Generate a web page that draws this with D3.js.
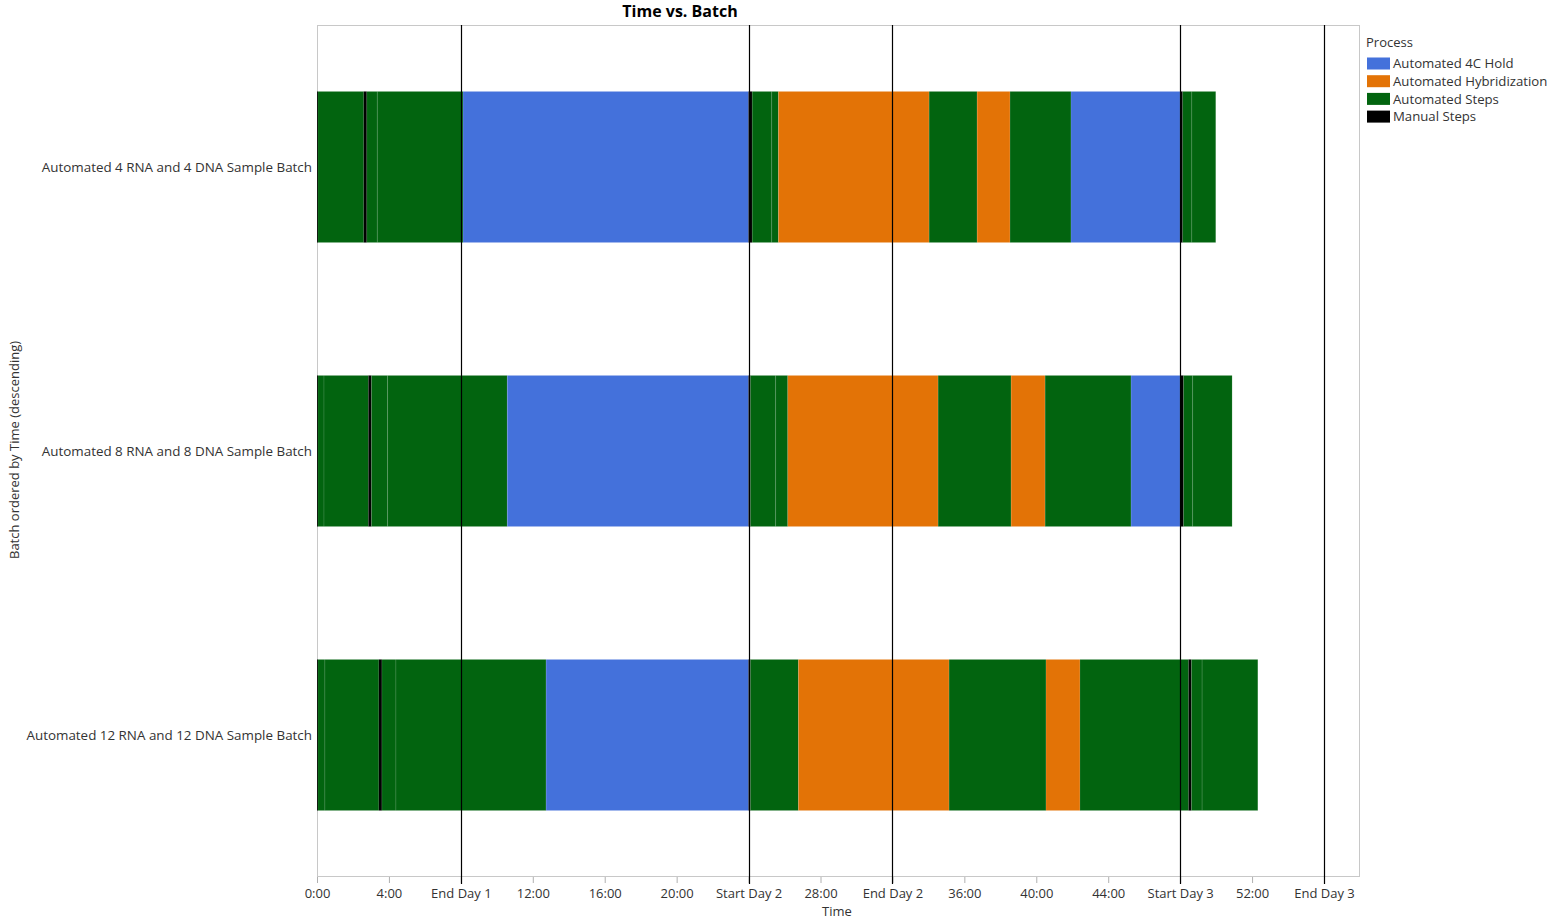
<!DOCTYPE html>
<html><head><meta charset="utf-8">
<script src="https://cdn.jsdelivr.net/npm/d3@7"></script>
<style>body{margin:0;background:#fff;font-family:"Open Sans","Noto Sans",sans-serif;}</style>
</head><body><svg id="c" width="1550" height="919"></svg>
<script>
const batches = ["Automated 4 RNA and 4 DNA Sample Batch","Automated 8 RNA and 8 DNA Sample Batch","Automated 12 RNA and 12 DNA Sample Batch"];
const processes = ["Automated 4C Hold","Automated Hybridization","Automated Steps","Manual Steps"];
const colors = ["#4471DB","#E37306","#02640F","#000000"];
// segments: [process index, start hour, end hour]
const seg4 = [[3,0,0.05],[2,0.05,2.6],[3,2.6,2.77],[2,2.77,3.35],[2,3.35,8.12],[0,8.12,24.0],[3,24.0,24.2],[2,24.2,25.29],[2,25.29,25.66],[1,25.66,34.04],[2,34.04,36.71],[1,36.71,38.54],[2,38.54,41.93],[0,41.93,48.0],[3,48.0,48.14],[2,48.14,48.65],[2,48.65,49.98]];
const seg8 = [[3,0,0.05],[2,0.05,0.39],[2,0.39,2.86],[3,2.86,3.03],[2,3.03,3.93],[2,3.93,10.58],[0,10.58,24.0],[3,24.0,24.1],[2,24.1,25.51],[2,25.51,26.18],[1,26.18,34.54],[2,34.54,38.6],[1,38.6,40.49],[2,40.49,45.27],[0,45.27,48.0],[3,48.0,48.19],[2,48.19,48.7],[2,48.7,50.89]];
const seg12 = [[3,0,0.05],[2,0.05,0.44],[2,0.44,3.44],[3,3.44,3.61],[2,3.61,4.39],[2,4.39,12.74],[0,12.74,24.0],[3,24.0,24.1],[2,24.1,26.77],[1,26.77,35.15],[2,35.15,40.54],[1,40.54,42.43],[2,42.43,48.47],[3,48.47,48.63],[2,48.63,49.22],[2,49.22,52.32]];
const segments = [seg4, seg8, seg12];
const tickHours = [0,4,8,12,16,20,24,28,32,36,40,44,48,52,56];
const tickLabels = ["0:00","4:00","End Day 1","12:00","16:00","20:00","Start Day 2","28:00","End Day 2","36:00","40:00","44:00","Start Day 3","52:00","End Day 3"];
const refHours = [8,24,32,48,56];

const svg = d3.select("#c");
const L = 317, R = 1360, T = 25, B = 877;
const x = d3.scaleLinear().domain([0,56]).range([L, 1324]);
const y = d3.scaleBand().domain(batches).range([T,B]).paddingInner(0.468).paddingOuter(0.234);

svg.append("rect").attr("x",L+0.5).attr("y",T+0.5).attr("width",R-L-1).attr("height",B-T-1)
  .attr("fill","#fff").attr("stroke","#c8c8c8");

const rows = svg.append("g");
batches.forEach((b,i)=>{
  rows.selectAll(null).data(segments[i]).enter().append("rect")
    .attr("x",d=>x(d[1])).attr("width",d=>Math.max(1,x(d[2])-x(d[1])))
    .attr("y",y(b)).attr("height",y.bandwidth())
    .attr("fill",d=>colors[d[0]])
    .attr("stroke",d=>d[0]===3?"none":"rgba(255,255,255,0.14)").attr("stroke-width",0.8);
});

// axis
const ax = svg.append("g").attr("transform",`translate(0,${B})`)
  .call(d3.axisBottom(x).tickValues(tickHours).tickFormat((d,i)=>tickLabels[i]).tickSize(6).tickSizeOuter(0));
ax.select(".domain").remove();
ax.selectAll(".tick line").attr("stroke","#b0b0b0");
ax.selectAll(".tick text").attr("font-size",13).attr("fill","#333").attr("dy","0.9em")
  .attr("font-family","'Open Sans','Noto Sans',sans-serif");

// reference lines
svg.selectAll(".ref").data(refHours).enter().append("line")
  .attr("x1",d=>Math.round(x(d))+0.5).attr("x2",d=>Math.round(x(d))+0.5)
  .attr("y1",T).attr("y2",B+7).attr("stroke","#000").attr("stroke-width",1.2);

// y labels
svg.selectAll(".yl").data(batches).enter().append("text")
  .attr("x",312).attr("y",d=>y(d)+y.bandwidth()/2).attr("dy","0.35em")
  .attr("text-anchor","end").attr("font-size",13.4).attr("fill","#333").text(d=>d);

svg.append("text").attr("x",680).attr("y",17).attr("text-anchor","middle")
  .attr("font-size",16).attr("font-weight","bold").attr("fill","#000").text("Time vs. Batch");
svg.append("text").attr("x",837).attr("y",916).attr("text-anchor","middle")
  .attr("font-size",13).attr("fill","#333").text("Time");
svg.append("text").attr("transform","translate(19,450) rotate(-90)").attr("text-anchor","middle")
  .attr("font-size",13).attr("fill","#333").text("Batch ordered by Time (descending)");

// legend
const lg = svg.append("g");
lg.append("text").attr("x",1366).attr("y",47).attr("font-size",13).attr("fill","#333").text("Process");
processes.forEach((p,i)=>{
  const yy = 63.5 + i*17.7;
  lg.append("rect").attr("x",1367).attr("y",yy-6).attr("width",23).attr("height",12).attr("fill",colors[i]);
  lg.append("text").attr("x",1393).attr("y",yy).attr("dy","0.35em").attr("font-size",13.2).attr("fill","#333").text(p);
});
</script></body></html>
